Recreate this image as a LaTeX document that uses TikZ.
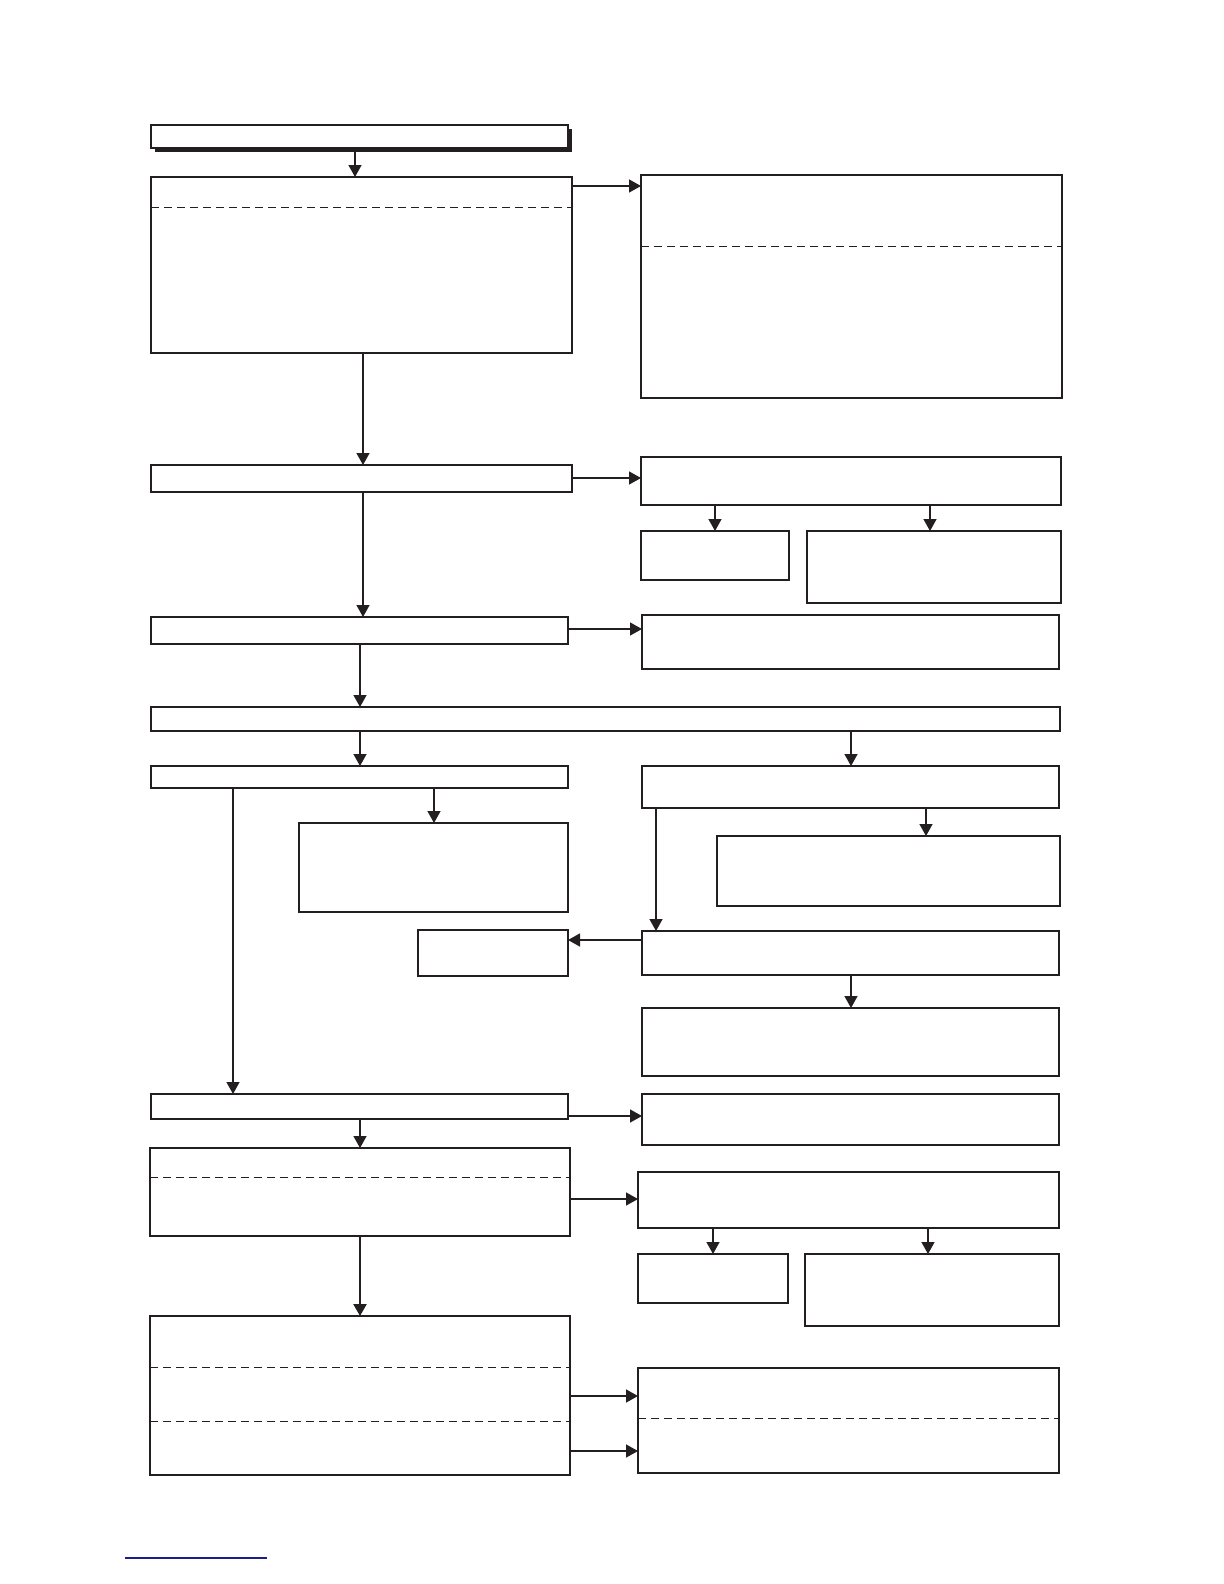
\documentclass[tikz,border=0pt]{standalone}
\usetikzlibrary{arrows.meta, shadows}
\definecolor{ink}{RGB}{35,31,32}
\definecolor{linkblue}{RGB}{28,28,140}
\tikzset{
  flow/.style={draw=ink, line width=0.75pt, rectangle, inner sep=0pt, outer sep=0pt, fill=white},
  arr/.style={draw=ink, line width=0.7pt, -{Triangle[length=6pt, width=6.5pt]}},
  sep/.style={draw=ink, line width=0.5pt, dash pattern=on 4pt off 2.5pt}
}
\begin{document}
\begin{tikzpicture}[x=0.5pt, y=-0.5pt]
      \useasboundingbox (0,0) rectangle (1224,1584);
      % title box with solid shadow
      \node[flow, line width=1pt, drop shadow={shadow xshift=1.8pt, shadow yshift=-2pt, fill=ink, opacity=1},
            minimum width=208.5pt, minimum height=11.5pt] (title) at (359.5,136.5) {};
      % all other boxes: name / left / top / right / bottom
      \foreach \n/\xa/\ya/\xb/\yb in {b1/151/177/572/353, r1/641/175/1062/398,
          b2/151/465/572/492, r2/641/457/1061/505, r2a/641/531/789/580, r2b/807/531/1061/603,
          b3/151/617/568/644, r3/642/615/1059/669, wide/151/707/1060/731,
          l4/151/766/568/788, r4/642/766/1059/808, l4a/299/823/568/912, r4a/717/836/1060/906,
          r5/642/931/1059/975, l5/418/930/568/976, r6/642/1008/1059/1076,
          b6/151/1094/568/1119, r7/642/1094/1059/1145, b7/150/1148/570/1236,
          r8/638/1172/1059/1228, r8a/638/1254/788/1303, r8b/805/1254/1059/1326,
          b8/150/1316/570/1475, r9/638/1368/1059/1473}
        \node[flow, minimum width={(\xb-\xa)*0.5pt}, minimum height={(\yb-\ya)*0.5pt}]
          (\n) at ({(\xa+\xb)/2}, {(\ya+\yb)/2}) {};
      % dashed dividers
      \foreach \n/\y in {b1/207, r1/246, b7/1177, b8/1367, b8/1421, r9/1418}
        \draw[sep] (\n.west |- 0,\y) -- (\n.east |- 0,\y);
      % downward connectors
      \foreach \a/\b/\x in {title/b1/355, b1/b2/363, r2/r2a/715, r2/r2b/930, b2/b3/363,
          b3/wide/360, wide/l4/360, wide/r4/851, l4/l4a/434, l4/b6/233, r4/r4a/926,
          r4/r5/656, r5/r6/851, b6/b7/360, r8/r8a/713, r8/r8b/928}
        \draw[arr] (\a.south -| \x,0) -- (\b.north -| \x,0);
      \draw[arr, line width=1.2pt] (b7.south -| 360,0) -- (b8.north -| 360,0);
      % sideways connectors
      \foreach \a/\b/\y in {b1/r1/186, b2/r2/478, b3/r3/629, b6/r7/1116,
          b7/r8/1199, b8/r9/1396, b8/r9/1451}
        \draw[arr] (\a.east |- 0,\y) -- (\b.west |- 0,\y);
      \draw[arr] (r5.west |- 0,940) -- (l5.east |- 0,940);
      % link rule at the foot
      \draw[linkblue, line width=1pt] (125,1558) -- (267,1558);
    \end{tikzpicture}
\end{document}
